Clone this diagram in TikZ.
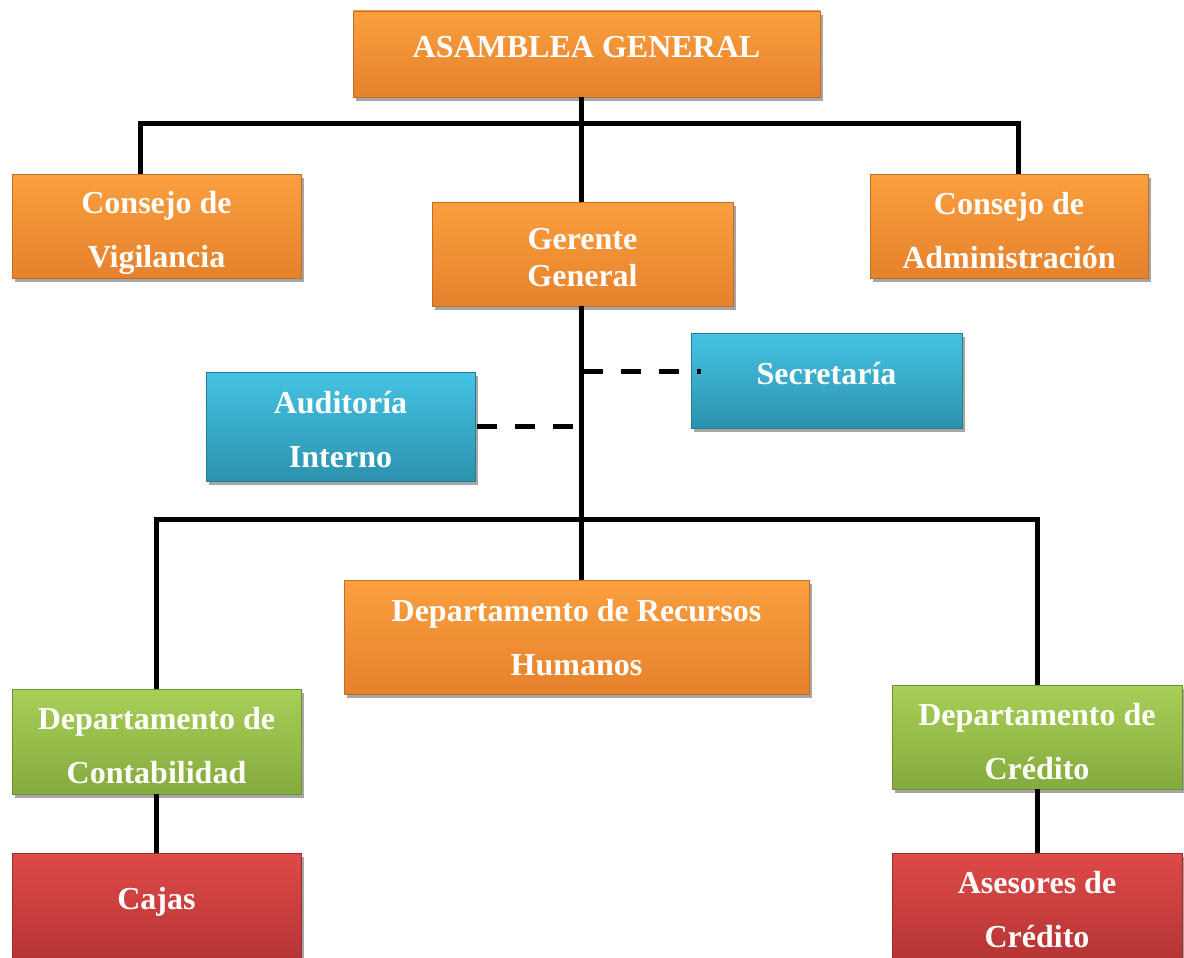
\documentclass[tikz,border=0pt]{standalone}
\usepackage{fontspec}
\setmainfont{Liberation Serif}
\usepackage{tikz}
\usetikzlibrary{shadows}

\definecolor{orangeTop}{HTML}{FA9F3E}
\definecolor{orangeBot}{HTML}{E6812C}
\definecolor{blueTop}{HTML}{45C3E3}
\definecolor{blueBot}{HTML}{2C92AD}
\definecolor{greenTop}{HTML}{A8CF58}
\definecolor{greenBot}{HTML}{85AA3D}
\definecolor{redTop}{HTML}{DE4A48}
\definecolor{redBot}{HTML}{B43434}

%% lift the text inside a box without changing the box
\newcommand{\textlift}[2]{\raisebox{#1}[\height][\depth]{%
    \vbox{\let\\\cr\halign{\hfil##\hfil\cr#2\crcr}}}}

\begin{document}
\begin{tikzpicture}[x = 1pt, y = -1pt,
    box/.style = {rectangle, inner sep = 0, align = center, text = white,
        font = \fontsize{32}{54}\selectfont\bfseries,
        drop shadow = {shadow xshift = 3pt, shadow yshift = -4pt,
            opacity = .35, fill = black}},
    orangebox/.style = {box, top color = orangeTop, bottom color = orangeBot,
        draw = orangeBot!85!black, line width = .8pt},
    bluebox/.style = {box, top color = blueTop, bottom color = blueBot,
        draw = blueBot!85!black, line width = .8pt},
    greenbox/.style = {box, top color = greenTop, bottom color = greenBot,
        draw = greenBot!85!black, line width = .8pt},
    redbox/.style = {box, top color = redTop, bottom color = redBot,
        draw = redBot!85!black, line width = .8pt},
    conn/.style = {line width = 5pt, black},
    dashconn/.style = {line width = 5pt, black, dash pattern = on 20pt off 18pt}]

    \useasboundingbox (0, 0) rectangle (1184, 958);

    %% top level
    \node[orangebox, minimum width = 467pt, minimum height = 86pt]
        (asamblea) at (586.5, 54) {\textlift{7pt}{ASAMBLEA GENERAL}};
    \node[orangebox, minimum width = 289pt, minimum height = 104pt]
        (vigilancia) at (156.5, 226) {\textlift{-7pt}{Consejo de\\Vigilancia}};
    \node[orangebox, minimum width = 278pt, minimum height = 104pt]
        (administracion) at (1009, 226)
        {\textlift{-5pt}{Consejo de\\Administración}};
    \node[orangebox, minimum width = 301pt, minimum height = 104pt,
        font = \fontsize{32}{37}\selectfont\bfseries]
        (gerente) at (582.5, 254) {\textlift{-4pt}{Gerente\\General}};

    %% staff
    \node[bluebox, minimum width = 271pt, minimum height = 95pt]
        (secretaria) at (826.5, 380.5) {\textlift{7pt}{Secretaría}};
    \node[bluebox, minimum width = 269pt, minimum height = 109pt]
        (auditoria) at (340.5, 426.5) {\textlift{-3pt}{Auditoría\\Interno}};

    %% departments
    \node[orangebox, minimum width = 465pt, minimum height = 114pt]
        (rrhh) at (576.5, 637)
        {\textlift{-1pt}{Departamento de Recursos\\Humanos}};
    \node[greenbox, minimum width = 289pt, minimum height = 105pt]
        (contabilidad) at (156.5, 741.5)
        {\textlift{-4pt}{Departamento de\\Contabilidad}};
    \node[greenbox, minimum width = 290pt, minimum height = 104pt]
        (credito) at (1037, 737) {\textlift{-5pt}{Departamento de\\Crédito}};
    \node[redbox, minimum width = 289pt, minimum height = 110pt]
        (cajas) at (156.5, 908) {\textlift{6pt}{Cajas}};
    \node[redbox, minimum width = 290pt, minimum height = 108pt]
        (asesores) at (1037, 907) {\textlift{-3pt}{Asesores de\\Crédito}};

    %% connectors
    \coordinate (trunk) at (581, 0);
    \coordinate (barTop) at (581, 123);
    \coordinate (barLow) at (581, 519);
    \coordinate (dropV) at (140, 0);
    \coordinate (dropA) at (1018, 0);
    \draw[conn] (asamblea.south -| trunk) -- (gerente.north -| trunk);
    \draw[conn] (gerente.south -| trunk) -- (rrhh.north -| trunk);
    \draw[conn] (vigilancia.north -| dropV) |- (barTop)
        -| (administracion.north -| dropA);
    \draw[conn] (contabilidad.north) |- (barLow) -| (credito.north);
    \draw[conn] (contabilidad.south) -- (cajas.north);
    \draw[conn] (credito.south) -- (asesores.north);

    %% staff lines
    \coordinate (sec) at (583, 371);
    \draw[dashconn] (sec) -- ([xshift = 10pt]sec -| secretaria.west);
    \draw[dashconn] ([xshift = 2pt]auditoria.east) -- (auditoria.east -| trunk);
\end{tikzpicture}
\end{document}
